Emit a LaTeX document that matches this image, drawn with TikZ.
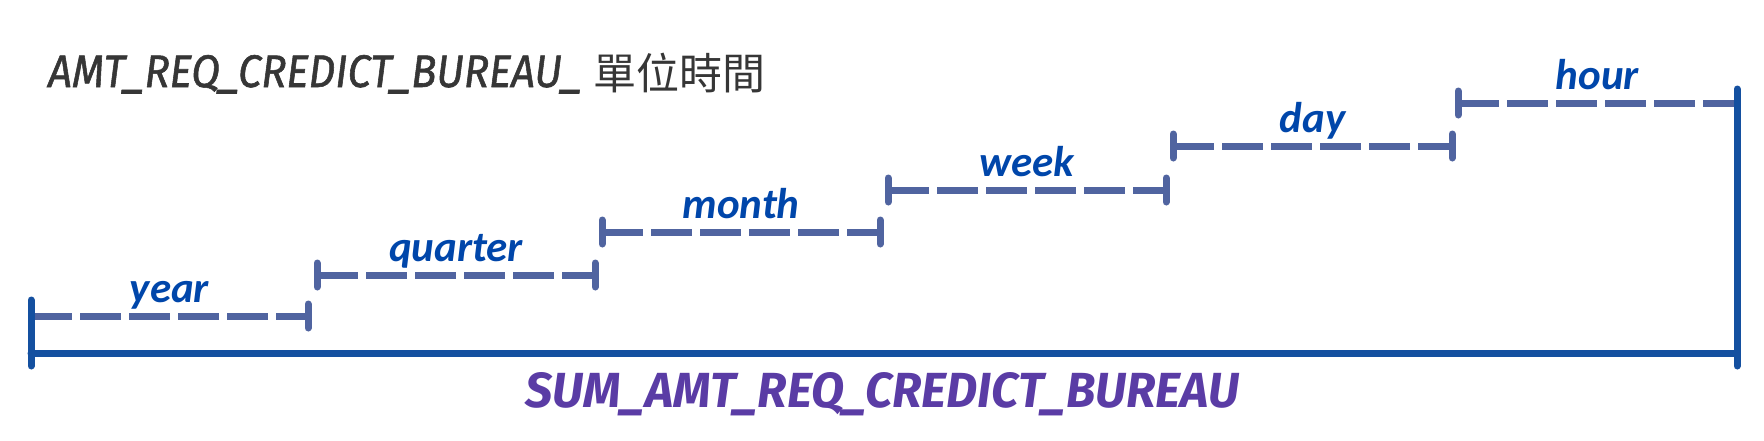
\documentclass[tikz,border=0pt]{standalone}
\usepackage{graphicx}
\usepackage{fontspec}
\setmainfont{Carlito}
\newfontfamily\titlefont{Fira Sans}
\newfontfamily\titlefontmed[FakeBold=1.3]{Fira Sans}
\newfontfamily\lblfont{Carlito}
\newfontfamily\cjkfont{Noto Sans CJK TC}
\definecolor{dashblue}{HTML}{5064A0}
\definecolor{mainblue}{HTML}{1450A0}
\definecolor{lblblue}{HTML}{0046AA}
\definecolor{titlegrey}{HTML}{363636}
\definecolor{sumpurple}{HTML}{5A3CA5}
\begin{document}
\begin{tikzpicture}[x=1pt,y=-1pt,
  dimline/.style={line width=7pt, draw=dashblue, dash pattern=on 41pt off 8pt},
  tickline/.style={line width=7pt, draw=dashblue, line cap=round},
  mainline/.style={line width=7pt, draw=mainblue, line cap=round},
  lbl/.style={font=\lblfont\bfseries\itshape\fontsize{43}{50}\selectfont, text=lblblue, inner sep=0pt, anchor=base},
]
\useasboundingbox (0,0) rectangle (1764,440);
% title
\node[anchor=base west, inner sep=0pt, text=titlegrey] (title) at (48,87)
  {\resizebox{534pt}{32pt}{\titlefontmed\itshape AMT\_REQ\_CREDICT\_BUREAU\_}};
\node[anchor=base west, inner sep=0pt, text=titlegrey] (titlecjk) at (593,89)
  {\cjkfont\fontsize{43}{50}\selectfont 單位時間};
% stepped dashed segments
\foreach \i/\xa/\xb/\yy/\txt in {0/31/308/316/year, 1/317/595/275/quarter, 2/602/880/232/month, 3/888/1166/190/week, 4/1173/1452/146/day, 5/1458/1737/103/hour} {
  \coordinate (a\i) at (\xa,\yy);
  \coordinate (b\i) at (\xb,\yy);
  \coordinate (a\i t) at (\xa,{\yy-12});
  \coordinate (a\i u) at (\xa,{\yy+12});
  \coordinate (b\i t) at (\xb,{\yy-12});
  \coordinate (b\i u) at (\xb,{\yy+12});
  \draw[dimline] (a\i) -- (b\i);
  \draw[tickline] (a\i t) -- (a\i u);
  \draw[tickline] (b\i t) -- (b\i u);
  \node[lbl] (l\i) at ({(\xa+\xb)/2},{\yy-14}) {\txt};
}
% main solid bracket
\coordinate (m0) at (31,353);
\coordinate (m1) at (1737,353);
\coordinate (lt) at (31,300);
\coordinate (lb) at (31,366);
\coordinate (rt) at (1737,89);
\coordinate (rb) at (1737,366);
\draw[mainline] (m0) -- (m1);
\draw[mainline] (lt) -- (lb);
\draw[mainline] (rt) -- (rb);
% bottom label
\node[anchor=base west, inner sep=0pt, text=sumpurple] (sum) at (525,407)
  {\resizebox{714pt}{35pt}{\titlefont\bfseries\itshape SUM\_AMT\_REQ\_CREDICT\_BUREAU}};
\end{tikzpicture}
\end{document}
